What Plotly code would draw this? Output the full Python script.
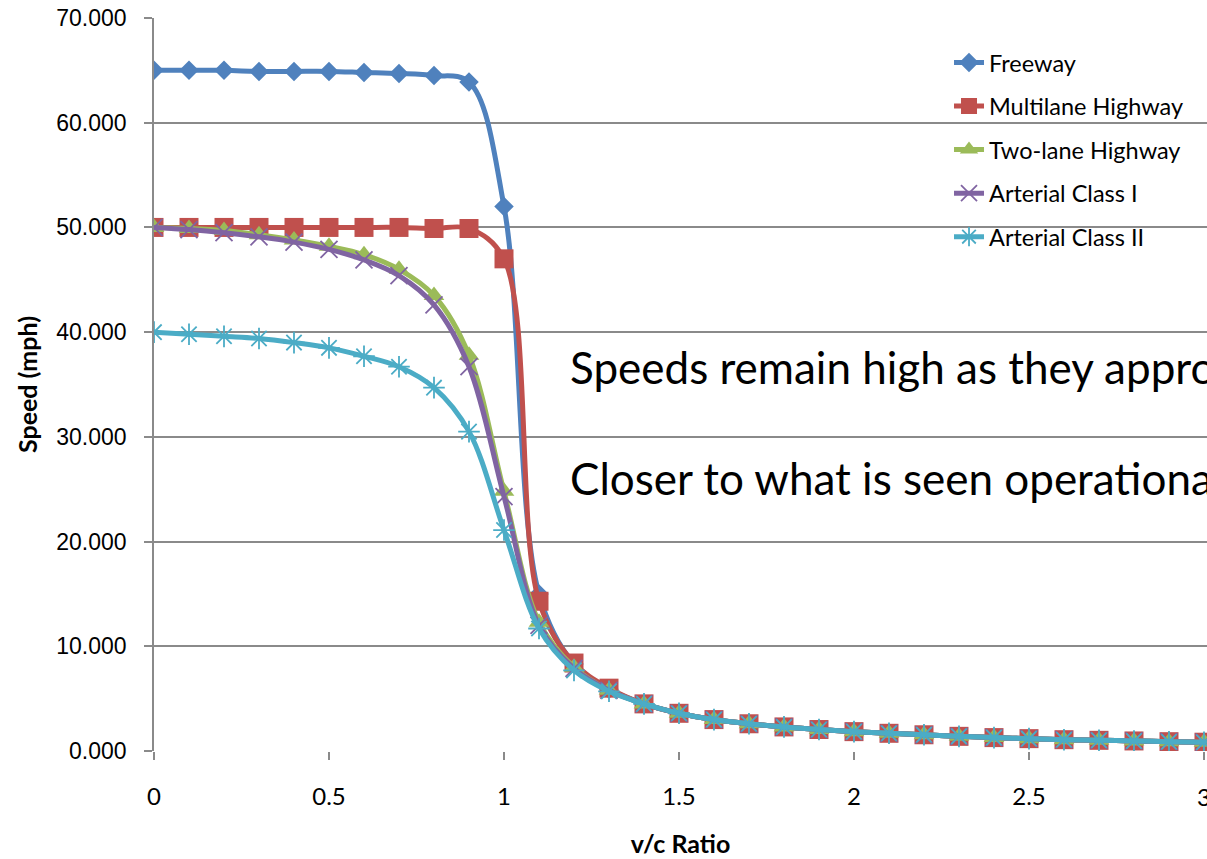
import plotly.graph_objects as go

vc_ratio = [0.0, 0.1, 0.2, 0.3, 0.4, 0.5, 0.6, 0.7, 0.8, 0.9, 1.0, 1.1, 1.2, 1.3, 1.4,
            1.5, 1.6, 1.7, 1.8, 1.9, 2.0, 2.1, 2.2, 2.3, 2.4, 2.5, 2.6, 2.7, 2.8, 2.9, 3.0]

# shared congested-regime values (v/c >= 1.4)
tail = [4.5, 3.6, 3.0, 2.6, 2.3, 2.05, 1.85, 1.69, 1.55, 1.40, 1.28, 1.18, 1.08, 1.02, 0.96, 0.89, 0.84]

freeway = [65.0, 65.0, 65.0, 64.9, 64.9, 64.9, 64.8, 64.7, 64.5, 63.9, 52.0, 15.0, 8.3, 5.9] + tail
multilane = [50.0, 50.0, 50.0, 50.0, 50.0, 50.0, 50.0, 50.0, 49.9, 49.9, 47.0, 14.3, 8.4, 6.0] + tail
twolane = [50.0, 49.9, 49.7, 49.3, 48.8, 48.2, 47.4, 46.0, 43.5, 37.8, 24.8, 12.3, 8.0, 5.8] + tail
arterial1 = [50.0, 49.8, 49.5, 49.1, 48.6, 47.9, 46.9, 45.4, 42.6, 36.7, 24.3, 12.0, 7.9, 5.8] + tail
arterial2 = [40.0, 39.8, 39.6, 39.4, 39.0, 38.5, 37.7, 36.7, 34.7, 30.5, 21.1, 11.7, 7.7, 5.7] + tail

y_ticks = [0, 10, 20, 30, 40, 50, 60, 70]
y_tick_text = ["0.000", "10.000", "20.000", "30.000", "40.000", "50.000", "60.000", "70.000"]
x_ticks = [0, 0.5, 1, 1.5, 2, 2.5, 3]
x_tick_text = ["0", "0.5", "1", "1.5", "2", "2.5", "3"]

series = [
    ("Freeway", freeway, "#4F81BD", "diamond", 15, 0),
    ("Multilane Highway", multilane, "#C0504D", "square", 19, 0),
    ("Two-lane Highway", twolane, "#9BBB59", "triangle-up", 18, 0),
    ("Arterial Class I", arterial1, "#8064A2", "x-thin-open", 17, 1.8),
    ("Arterial Class II", arterial2, "#4BACC6", "asterisk-open", 18, 1.8),
]

fig = go.Figure()
for i, (name, ys, col, sym, sz, lw) in enumerate(series):
    fig.add_trace(go.Scatter(
        x=vc_ratio, y=ys, name=name, mode="lines+markers",
        line=dict(color=col, width=5, shape="spline", smoothing=1),
        marker=dict(symbol=sym, size=sz, color=col, line=dict(color=col, width=lw)),
        legendgroup="g%d" % i,
    ))

grid = "#8a8a8a"
tick_font = dict(family="Lato", size=24, color="#000000")
fig.update_layout(
    width=1207, height=859,
    margin=dict(l=154, r=0, t=18, b=108),
    paper_bgcolor="white", plot_bgcolor="white",
    showlegend=True,
    legend=dict(x=0.755, y=0.969, xanchor="left", yanchor="top",
                font=dict(family="Lato", size=23.5, color="#000000"),
                tracegroupgap=10, bgcolor="rgba(0,0,0,0)"),
    xaxis=dict(range=[0, 3.0086], tickvals=x_ticks, ticktext=x_tick_text,
               showgrid=False, zeroline=False, showline=False,
               ticks="outside", ticklen=8, tickcolor=grid, tickwidth=1.5,
               ticklabelstandoff=16,
               tickfont=tick_font,
               title=dict(text="<b>v/c Ratio</b>", font=dict(family="Lato", size=25, color="#000000"),
                          standoff=26)),
    yaxis=dict(range=[0, 70], tickvals=y_ticks, ticktext=y_tick_text,
               showgrid=True, gridcolor=grid, gridwidth=1.5,
               zeroline=False, showline=True, linecolor=grid, linewidth=1.5,
               ticks="outside", ticklen=8, tickcolor=grid, tickwidth=1.5,
               ticklabelstandoff=13,
               tickfont=dict(family="Liberation Sans", size=23, color="#000000"),
               title=dict(text="<b>Speed (mph)</b>", font=dict(family="Lato", size=25, color="#000000"),
                          standoff=12)),
)

# the last x tick label sits on the right edge and is drawn half-cut, as in the original
fig.add_annotation(xref="x", yref="paper", x=x_ticks[-1], y=-46 / 733,
                   xanchor="center", yanchor="middle", showarrow=False,
                   text=x_tick_text[-1], font=tick_font)

fig.add_annotation(xref="paper", yref="paper", x=(568 - 154) / 1053, y=(751 - 367) / 733,
                   xanchor="left", yanchor="middle", showarrow=False,
                   text="Speeds remain high as they approach capacity",
                   font=dict(family="Lato", size=44, color="#000000"))
fig.add_annotation(xref="paper", yref="paper", x=(568 - 154) / 1053, y=(751 - 478) / 733,
                   xanchor="left", yanchor="middle", showarrow=False,
                   text="Closer to what is seen operationally",
                   font=dict(family="Lato", size=44, color="#000000"))

fig.write_html("out.html")
